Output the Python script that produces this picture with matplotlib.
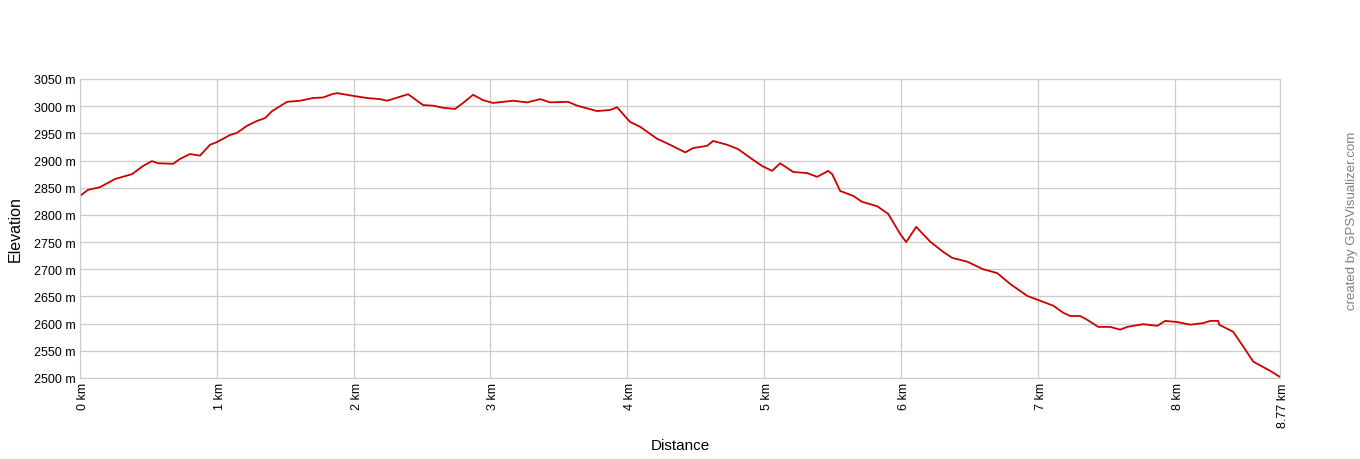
import matplotlib
matplotlib.use("Agg")
import matplotlib.pyplot as plt
import matplotlib.transforms as mtransforms

plt.rcParams['font.family'] = ['Liberation Sans', 'DejaVu Sans']

distancia_km = [0.000, 0.058, 0.146, 0.256, 0.380, 0.461, 0.526, 0.570, 0.680, 0.731,
                0.804, 0.877, 0.950, 1.001, 1.096, 1.148, 1.221, 1.294, 1.352, 1.404,
                1.462, 1.513, 1.608, 1.703, 1.776, 1.842, 1.879, 1.996, 2.098, 2.193,
                2.244, 2.398, 2.507, 2.580, 2.654, 2.741, 2.800, 2.873, 2.946, 3.019,
                3.165, 3.268, 3.363, 3.436, 3.567, 3.633, 3.779, 3.874, 3.925, 4.020,
                4.094, 4.218, 4.313, 4.423, 4.481, 4.583, 4.627, 4.730, 4.810, 4.898,
                4.985, 5.058, 5.117, 5.212, 5.314, 5.387, 5.468, 5.497, 5.556, 5.651,
                5.716, 5.826, 5.906, 5.994, 6.038, 6.111, 6.213, 6.308, 6.374, 6.484,
                6.601, 6.703, 6.798, 6.923, 7.039, 7.113, 7.186, 7.237, 7.310, 7.361,
                7.442, 7.529, 7.602, 7.654, 7.770, 7.873, 7.931, 8.019, 8.114, 8.209,
                8.260, 8.319, 8.326, 8.428, 8.501, 8.575, 8.699, 8.770]
elevacion_m = [2835, 2846, 2851, 2866, 2875, 2890, 2899, 2895, 2894, 2903,
               2912, 2909, 2929, 2934, 2947, 2951, 2964, 2973, 2978, 2991,
               3000, 3008, 3010, 3015, 3016, 3022, 3024, 3019, 3015, 3013,
               3010, 3022, 3002, 3001, 2997, 2995, 3006, 3021, 3011, 3006,
               3010, 3007, 3013, 3007, 3008, 3001, 2991, 2993, 2998, 2971,
               2962, 2940, 2929, 2915, 2923, 2927, 2936, 2929, 2921, 2905,
               2890, 2881, 2895, 2879, 2877, 2870, 2881, 2875, 2844, 2835,
               2824, 2816, 2802, 2765, 2750, 2778, 2751, 2732, 2721, 2714,
               2700, 2693, 2673, 2651, 2640, 2633, 2620, 2614, 2614, 2607,
               2594, 2594, 2589, 2594, 2599, 2596, 2605, 2603, 2598, 2601,
               2605, 2605, 2598, 2585, 2558, 2530, 2513, 2502]

ticks_x = [0, 1, 2, 3, 4, 5, 6, 7, 8, 8.77]
etiquetas_x = ["0 km", "1 km", "2 km", "3 km", "4 km", "5 km", "6 km", "7 km", "8 km", "8.77 km"]
ticks_y = list(range(2500, 3051, 50))
etiquetas_y = [f"{v} m" for v in ticks_y]

fig = plt.figure(figsize=(13.6, 4.6), dpi=100)
ax = fig.add_axes([80/1360, 1-379/460, 1200/1360, 299/460])

ax.plot(distancia_km, elevacion_m, color='#cc0000', linewidth=1.3)

ax.set_xlim(0, 8.77)
ax.set_ylim(2500, 3050)
ax.set_xticks(ticks_x)
ax.set_xticklabels(etiquetas_x, rotation=90, fontsize=9)
ax.set_yticks(ticks_y)
ax.set_yticklabels(etiquetas_y, fontsize=9)
ax.tick_params(length=0, pad=3)
desplazamiento = mtransforms.ScaledTranslation(3/100, 0, fig.dpi_scale_trans)
for lbl in ax.get_xticklabels():
    lbl.set_rotation_mode('anchor')
    lbl.set_horizontalalignment('right')
    lbl.set_verticalalignment('center')
    lbl.set_transform(lbl.get_transform() + desplazamiento)
ax.grid(True, color='#cccccc', linewidth=0.9)
ax.set_axisbelow(True)
for s in ax.spines.values():
    s.set_color('#cccccc')

ax.set_xlabel("Distance", fontsize=11, labelpad=8)
ax.set_ylabel("Elevation", fontsize=11.5, labelpad=8)

fig.text(1352/1360, 1 - 221/460, "created by GPSVisualizer.com", rotation=90,
         fontsize=9.5, color='#808080', ha='center', va='center')

fig.savefig("out.png", dpi=100)
